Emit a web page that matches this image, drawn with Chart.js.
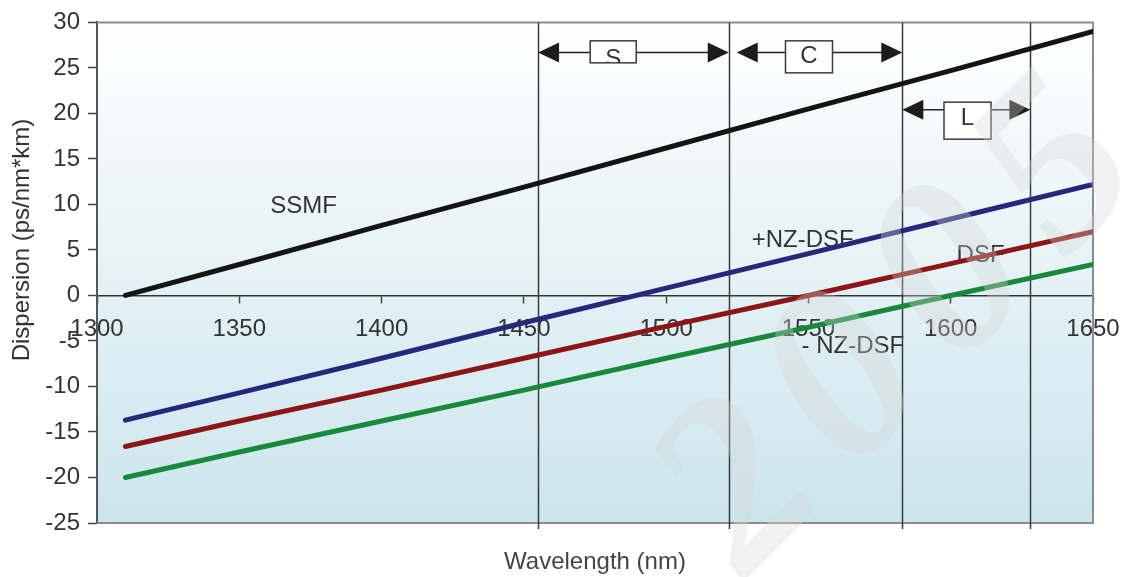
<!DOCTYPE html>
<html>
<head>
<meta charset="utf-8">
<script src="https://cdn.jsdelivr.net/npm/chart.js@4/dist/chart.umd.min.js"></script>
<style>
  html, body { margin: 0; padding: 0; background: #ffffff; }
  canvas { display: block; }
</style>
</head>
<body>
<canvas id="chart" width="1125" height="577"></canvas>
<script>
// Chromatic dispersion of fibre types versus wavelength
const wavelengths = [1310, 1350, 1400, 1450, 1500, 1550, 1600, 1650];
const ssmf    = [0.0, 3.4, 7.7, 11.9, 16.2, 20.5, 24.7, 29.0];
const nzPlus  = [-13.7, -10.7, -6.9, -3.0, 0.8, 4.6, 8.4, 12.2];
const dsf     = [-16.6, -13.8, -10.4, -6.9, -3.4, 0.0, 3.5, 7.0];
const nzMinus = [-20.0, -17.2, -13.8, -10.4, -6.9, -3.5, 0.0, 3.4];
const seriesNames = ['SSMF', '+NZ-DSF', 'DSF', '- NZ-DSF'];

// Telecom bands (edges in nm) and their names
const bandEdges = [1455, 1522, 1583, 1628];
const bandNames = ['S', 'C', 'L'];

// Axis tick labels
const xTickLabels = [1300, 1350, 1400, 1450, 1500, 1550, 1600, 1650];
const yTickLabels = [-25, -20, -15, -10, -5, 0, 5, 10, 15, 20, 25, 30];

const FONT = "'Liberation Sans', Arial, sans-serif";
const TEXT = '#333333';
const seriesValues = [ssmf, nzPlus, dsf, nzMinus];
const seriesColors = ['#141414', '#27277c', '#8c1515', '#18883b'];

// where each curve name sits, in data units
const curveLabelAt = [
  { x: 1372.6, y: 9.8 },
  { x: 1548.0, y: 6.1 },
  { x: 1610.5, y: 4.4 },
  { x: 1565.6, y: -5.6 }
];

// band arrows: level (data units), box centre (nm), box size and offsets (px)
const bandMarkers = [
  { level: 26.7, boxX: 1481.4, w: 46, h: 22, boxDy: -11.6, textDy: 7.0, gapLeft: 0 },
  { level: 26.7, boxX: 1550.2, w: 47, h: 32, boxDy: -11.6, textDy: 4.4, gapLeft: 8 },
  { level: 20.4, boxX: 1605.9, w: 47, h: 37, boxDy: -7.6, textDy: 9.0, gapLeft: 0 }
];

const toPoints = ys => wavelengths.map((w, i) => ({ x: w, y: ys[i] }));

const plotBackground = {
  id: 'plotBackground',
  beforeDraw(chart) {
    const { ctx, chartArea: a } = chart;
    ctx.save();
    ctx.fillStyle = '#ffffff';
    ctx.fillRect(0, 0, chart.width, chart.height);
    const g = ctx.createLinearGradient(0, a.top, 0, a.bottom);
    g.addColorStop(0, '#ffffff');
    g.addColorStop(1, '#cbe5ed');
    ctx.fillStyle = g;
    ctx.fillRect(a.left, a.top, a.right - a.left, a.bottom - a.top);
    ctx.restore();
  }
};

function arrowHead(ctx, tipX, y, dir) {
  const len = 21, half = 10;
  ctx.beginPath();
  ctx.moveTo(tipX, y);
  ctx.lineTo(tipX + dir * len, y - half);
  ctx.lineTo(tipX + dir * len, y + half);
  ctx.closePath();
  ctx.fill();
}

const bandsAndLabels = {
  id: 'bandsAndLabels',
  beforeDatasetsDraw(chart) {
    const { ctx, chartArea: a, scales: { x, y } } = chart;
    ctx.save();

    // plot frame (top, right, bottom)
    ctx.strokeStyle = '#8c8c8c';
    ctx.lineWidth = 2;
    ctx.beginPath();
    ctx.moveTo(a.left, a.top);
    ctx.lineTo(a.right, a.top);
    ctx.lineTo(a.right, a.bottom);
    ctx.lineTo(a.left, a.bottom);
    ctx.stroke();

    // band edges
    ctx.strokeStyle = '#3a3a3a';
    ctx.lineWidth = 1.5;
    bandEdges.forEach(edge => {
      const px = Math.round(x.getPixelForValue(edge)) + 0.5;
      ctx.beginPath();
      ctx.moveTo(px, a.top);
      ctx.lineTo(px, a.bottom + 6);
      ctx.stroke();
    });

    // band arrows with boxed names
    bandNames.forEach((name, i) => {
      const m = bandMarkers[i];
      const x0 = x.getPixelForValue(bandEdges[i]) + m.gapLeft;
      const x1 = x.getPixelForValue(bandEdges[i + 1]);
      const ay = y.getPixelForValue(m.level);
      ctx.strokeStyle = '#222222';
      ctx.fillStyle = '#1c1c1c';
      ctx.lineWidth = 1.5;
      ctx.beginPath();
      ctx.moveTo(x0 + 10, ay);
      ctx.lineTo(x1 - 10, ay);
      ctx.stroke();
      arrowHead(ctx, x0, ay, 1);
      arrowHead(ctx, x1, ay, -1);

      const cx = x.getPixelForValue(m.boxX);
      const bx = cx - m.w / 2, by = ay + m.boxDy;
      ctx.fillStyle = '#ffffff';
      ctx.fillRect(bx, by, m.w, m.h);
      ctx.save();
      ctx.beginPath();
      ctx.rect(bx, by, m.w, m.h);
      ctx.clip();
      ctx.fillStyle = TEXT;
      ctx.font = '24px ' + FONT;
      ctx.textAlign = 'center';
      ctx.textBaseline = 'middle';
      ctx.fillText(name, cx, ay + m.textDy);
      ctx.restore();
      ctx.strokeStyle = '#3c3c3c';
      ctx.lineWidth = 1.5;
      ctx.strokeRect(bx, by, m.w, m.h);
    });

    // curve names
    ctx.fillStyle = TEXT;
    ctx.font = '24px ' + FONT;
    ctx.textAlign = 'center';
    ctx.textBaseline = 'middle';
    seriesNames.forEach((name, i) => {
      const p = curveLabelAt[i];
      ctx.fillText(name, x.getPixelForValue(p.x), y.getPixelForValue(p.y));
    });

    ctx.restore();
  },
  afterDraw(chart) {
    const { ctx } = chart;
    // vertical axis title
    ctx.save();
    ctx.translate(22, 240);
    ctx.rotate(-Math.PI / 2);
    ctx.fillStyle = TEXT;
    ctx.font = '24px ' + FONT;
    ctx.textAlign = 'center';
    ctx.textBaseline = 'middle';
    ctx.fillText('Dispersion (ps/nm*km)', 0, 0);
    ctx.restore();

    // faint year watermark across the right half
    ctx.save();
    ctx.font = "italic bold 245px 'Liberation Serif', serif";
    ctx.fillStyle = 'rgba(215,215,215,0.34)';
    ctx.textBaseline = 'alphabetic';
    const ang = -Math.PI / 4;
    const step = 150;
    '2005'.split('').forEach((ch, i) => {
      ctx.save();
      ctx.translate(745 + Math.cos(ang) * step * i, 580 + Math.sin(ang) * step * i);
      ctx.rotate(ang);
      ctx.fillText(ch, 0, 0);
      ctx.restore();
    });
    ctx.restore();
  }
};

new Chart(document.getElementById('chart'), {
  type: 'line',
  data: {
    datasets: seriesValues.map((ys, i) => ({
      label: seriesNames[i],
      data: toPoints(ys),
      borderColor: seriesColors[i],
      backgroundColor: seriesColors[i],
      borderWidth: 5,
      borderCapStyle: 'round',
      borderJoinStyle: 'round',
      pointRadius: 0,
      tension: 0,
      fill: false
    }))
  },
  options: {
    responsive: false,
    animation: false,
    devicePixelRatio: 1,
    layout: { padding: { top: 22, right: 32, bottom: 0, left: 0 } },
    plugins: { legend: { display: false }, tooltip: { enabled: false } },
    scales: {
      x: {
        type: 'linear',
        position: { y: 0 },
        min: xTickLabels[0],
        max: xTickLabels[xTickLabels.length - 1],
        afterBuildTicks: s => { s.ticks = xTickLabels.map(v => ({ value: v })); },
        afterFit: s => { s.paddingLeft = 0; s.paddingRight = 0; },
        ticks: {
          font: { family: FONT, size: 24 },
          color: TEXT,
          padding: 13,
          maxRotation: 0,
          autoSkip: false,
          callback: v => String(v)
        },
        grid: { drawOnChartArea: false, drawTicks: true, tickLength: 7, tickColor: '#444444', tickWidth: 1.5 },
        border: { display: true, color: '#333333', width: 1.5 }
      },
      xTitle: {
        type: 'linear',
        axis: 'x',
        position: 'bottom',
        min: xTickLabels[0],
        max: xTickLabels[xTickLabels.length - 1],
        ticks: { display: false },
        grid: { display: false },
        border: { display: false },
        title: {
          display: true,
          text: 'Wavelength (nm)',
          font: { family: FONT, size: 24 },
          color: '#444444',
          padding: 0
        },
        afterFit: s => { s.height = 54; s.paddingLeft = 0; s.paddingRight = 0; }
      },
      y: {
        type: 'linear',
        position: 'left',
        min: yTickLabels[0],
        max: yTickLabels[yTickLabels.length - 1],
        afterBuildTicks: s => { s.ticks = yTickLabels.map(v => ({ value: v })); },
        ticks: {
          font: { family: FONT, size: 24 },
          color: TEXT,
          padding: 8,
          callback: v => String(v)
        },
        grid: { drawOnChartArea: false, drawTicks: true, tickLength: 9, tickColor: '#444444', tickWidth: 1.5 },
        border: { display: true, color: '#555555', width: 2 },
        afterFit: s => { s.width = 97; }
      }
    }
  },
  plugins: [plotBackground, bandsAndLabels]
});
</script>
</body>
</html>
